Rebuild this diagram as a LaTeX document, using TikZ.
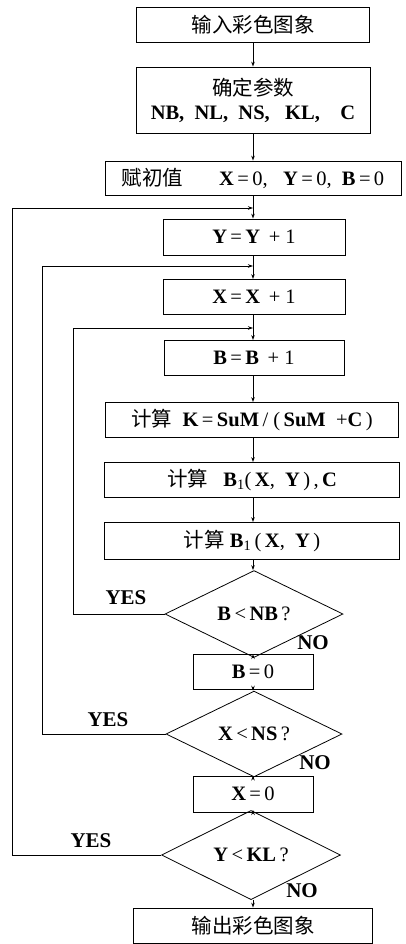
\documentclass[tikz,border=0pt]{standalone}
\usepackage{fontspec}
\setmainfont{Liberation Serif}
\newfontfamily\cjk{Noto Sans CJK SC}
\usetikzlibrary{shapes.geometric,arrows.meta}
\begin{document}
\begin{tikzpicture}[x=1pt,y=-1pt,
  font=\fontsize{20.5}{24}\selectfont,
  box/.style={draw,rectangle,line width=0.8pt,inner sep=0pt,align=center},
  dia/.style={draw,diamond,line width=0.8pt,inner sep=0pt},
  arr/.style={line width=0.8pt,-{Stealth[length=5pt,width=3.5pt]}},
  lab/.style={inner sep=0pt,font=\fontsize{21}{24}\selectfont\bfseries}]
\useasboundingbox (0,0) rectangle (406,944);
\node[box,minimum width=233,minimum height=35] (b1) at (253,24.5) {\cjk 输入彩色图象};
\node[box,minimum width=234,minimum height=66] (b2) at (253,100)
  {{\cjk 确定参数}\\[0pt]\textbf{NB,\ \ NL,\ \ NS,\ \ \ KL,\ \ \ \ C}};
\node[box,minimum width=296,minimum height=34] (b3) at (253,178)
  {{\cjk 赋初值}\quad\ \ \ \textbf{X}\,=\,0,\ \ \ \textbf{Y}\,=\,0,\ \ \textbf{B}\,=\,0};
\node[box,minimum width=182,minimum height=36] (bY) at (254,237) {\textbf{Y}\,=\,\textbf{Y}\, + 1};
\node[box,minimum width=182,minimum height=35] (bX) at (254,297) {\textbf{X}\,=\,\textbf{X}\, + 1};
\node[box,minimum width=180,minimum height=35] (bB) at (254,358) {\textbf{B}\,=\,\textbf{B}\, + 1};
\node[box,minimum width=293,minimum height=35] (bK) at (252,420)
  {{\cjk 计算}\ \ \textbf{K}\,=\,\textbf{SuM}\,/\ (\,\textbf{SuM}\ \ +\textbf{C}\,)};
\node[box,minimum width=295,minimum height=35] (bBC) at (252,480)
  {{\cjk 计算}\ \ \ \textbf{B}\textsubscript{1}(\,\textbf{X},\ \ \textbf{Y}\,)\,,\,\textbf{C}};
\node[box,minimum width=295,minimum height=37] (bBXY) at (252,541)
  {{\cjk 计算}\ \textbf{B}\textsubscript{1}\,(\,\textbf{X},\ \ \textbf{Y}\,)};
\node[dia,minimum width=178,minimum height=59] (d1) at (254,614) {\textbf{B}\,<\,\textbf{NB}\,?};
\node[box,minimum width=120,minimum height=35] (bB0) at (253,672) {\textbf{B}\,=\,0};
\node[dia,minimum width=176,minimum height=60] (d2) at (254,734) {\textbf{X}\,<\,\textbf{NS}\,?};
\node[box,minimum width=120,minimum height=36] (bX0) at (253,794) {\textbf{X}\,=\,0};
\node[dia,minimum width=179,minimum height=60] (d3) at (251,855) {\textbf{Y}\,<\,\textbf{KL}\,?};
\node[box,minimum width=239,minimum height=35] (bo) at (253,925.5) {\cjk 输出彩色图象};
% joins on main line
\coordinate (jY) at (253,208);
\coordinate (jX) at (253,266);
\coordinate (jB) at (253,328);
% main flow
\draw[arr] (b1.south) -- (b2.north);
\draw[arr] (b2.south) -- (b2.south |- b3.north);
\draw[arr] (b3.south) -- (b3.south |- bY.north);
\draw[arr] (bY.south -| jX) -- (jX |- bX.north);
\draw[arr] (bX.south -| jB) -- (jB |- bB.north);
\draw[arr] (bB.south -| jB) -- (jB |- bK.north);
\draw[arr] (bK.south -| jB) -- (jB |- bBC.north);
\draw[arr] (bBC.south -| jB) -- (jB |- bBXY.north);
\draw[arr] (bBXY.south -| jB) -- (jB |- d1.north);
\draw[arr] (d1.south -| jB) -- (jB |- bB0.north);
\draw[arr] (bB0.south -| jB) -- (jB |- d2.north);
\draw[arr] (d2.south -| jB) -- (jB |- bX0.north);
\draw[arr] (bX0.south -| jB) -- (jB |- d3.north);
\draw[arr] (d3.south -| jB) -- (jB |- bo.north);
% loops
\draw[arr] (d1.west) -- ++(-91,0) |- (jB);
\draw[arr] (d2.west) -- ++(-123,0) |- (jX);
\draw[arr] (d3.west) -- ++(-148.5,0) |- (jY);
% labels
\node[lab] (y1) at (126,598) {YES};
\node[lab] (y2) at (108,720) {YES};
\node[lab] (y3) at (91,841) {YES};
\node[lab] (n1) at (313,643) {NO};
\node[lab] (n2) at (315,763) {NO};
\node[lab] (n3) at (302,891) {NO};
\end{tikzpicture}
\end{document}
